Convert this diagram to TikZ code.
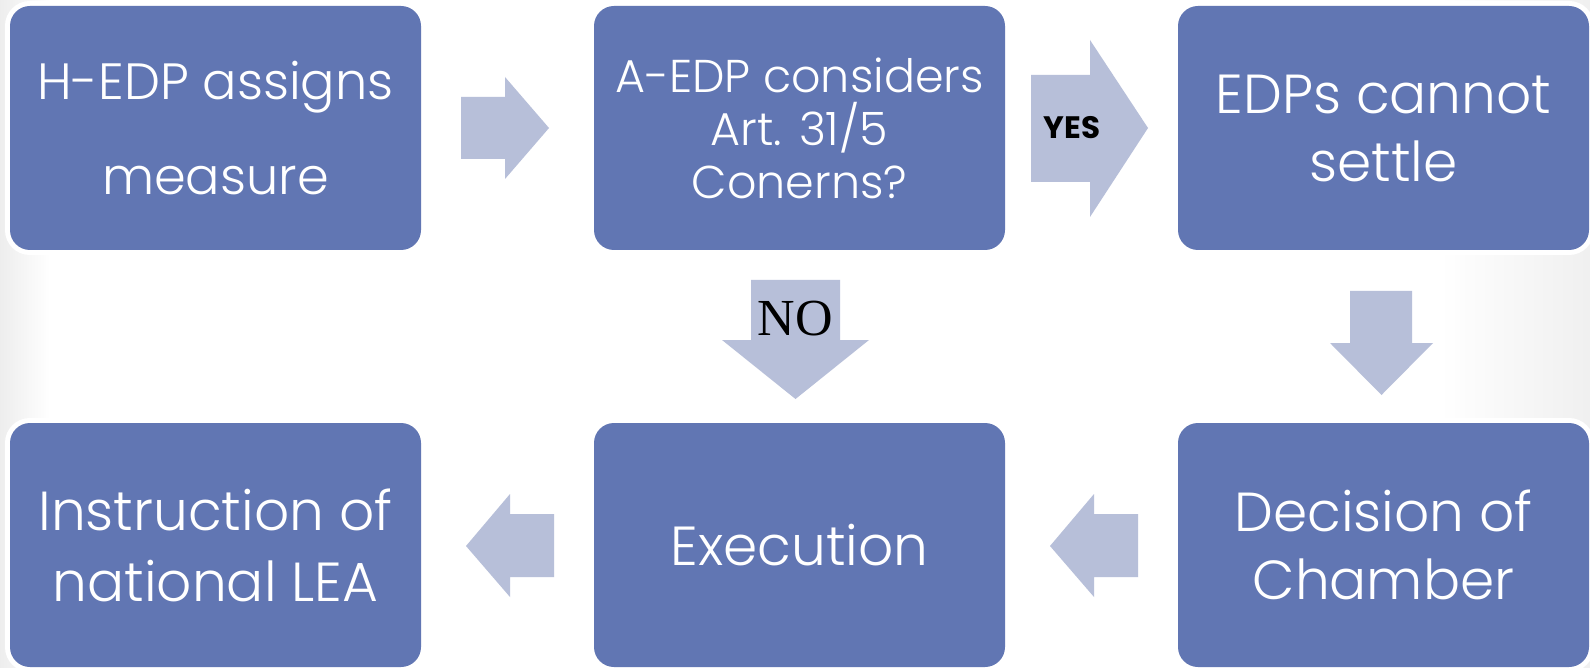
\documentclass[tikz,border=0pt]{standalone}
\usepackage{fontspec}
\setmainfont{Poppins}
\newfontfamily\boxfont{Poppins Light}
\newfontfamily\serifno{Liberation Serif}
\usetikzlibrary{shapes.arrows}
\definecolor{boxblue}{RGB}{97,118,179}
\definecolor{arrowc}{RGB}{183,191,217}
\begin{document}
\begin{tikzpicture}[x=1pt,y=-1pt,
  box/.style={fill=boxblue, rounded corners=20pt, minimum width=411pt, minimum height=244pt,
     inner sep=0pt, text=white, align=center, preaction={draw=white, line width=10pt}},
  bigtext/.style={font=\boxfont\fontsize{55}{68}\selectfont},
  blockarrow/.style={fill=arrowc, draw=none}]
\useasboundingbox (0,0) rectangle (1590,668);
\fill[white] (0,0) rectangle (1590,668);
\shade[left color=black!7, right color=white, draw=none] (0,0) rectangle (50,668);
\shade[left color=white, right color=black!6, draw=none] (1440,0) rectangle (1590,668);

\node[box, font=\boxfont\fontsize{51}{95}\selectfont] (b1) at (215.5,128) {H-EDP assigns\\measure};
\node[box, font=\boxfont\fontsize{46}{53}\selectfont] (b2) at (799.5,128) {A-EDP considers\\Art. 31/5\\Conerns?};
\node[box, bigtext] (b3) at (1383.5,128) {EDPs cannot\\settle};
\node[box, bigtext, font=\boxfont\fontsize{55}{71}\selectfont] (b4) at (215.5,545) {Instruction of\\national LEA};
\node[box, bigtext] (b5) at (799.5,545) {Execution};
\node[box, bigtext] (b6) at (1383.5,545) {Decision of\\Chamber};

% right arrow b1 -> b2
\fill[blockarrow] (461,97) -- (505,97) -- (505,77) -- (549,128) -- (505,179) -- (505,159) -- (461,159) -- cycle;
% YES arrow b2 -> b3
\fill[blockarrow] (1031,75) -- (1090,75) -- (1090,40) -- (1148,128) -- (1090,217) -- (1090,182) -- (1031,182) -- cycle;
\node[font=\fontsize{31}{31}\selectfont\bfseries, text=black] (yes) at (1072,128) {YES};
% NO arrow b2 -> b5
\fill[blockarrow] (751,280) -- (840,280) -- (840,340) -- (869,340) -- (795.5,399) -- (722,340) -- (751,340) -- cycle;
\node[font=\serifno\fontsize{52}{52}\selectfont, text=black] (no) at (795.5,319) {NO};
% down arrow b3 -> b6
\fill[blockarrow] (1350,291) -- (1412,291) -- (1412,343) -- (1433,343) -- (1381.5,395) -- (1330,343) -- (1350,343) -- cycle;
% left arrow b6 -> b5
\fill[blockarrow] (1138,514) -- (1094,514) -- (1094,494) -- (1050,546) -- (1094,597) -- (1094,577) -- (1138,577) -- cycle;
% left arrow b5 -> b4
\fill[blockarrow] (554,514) -- (510,514) -- (510,494) -- (466,546) -- (510,597) -- (510,577) -- (554,577) -- cycle;
\end{tikzpicture}
\end{document}
